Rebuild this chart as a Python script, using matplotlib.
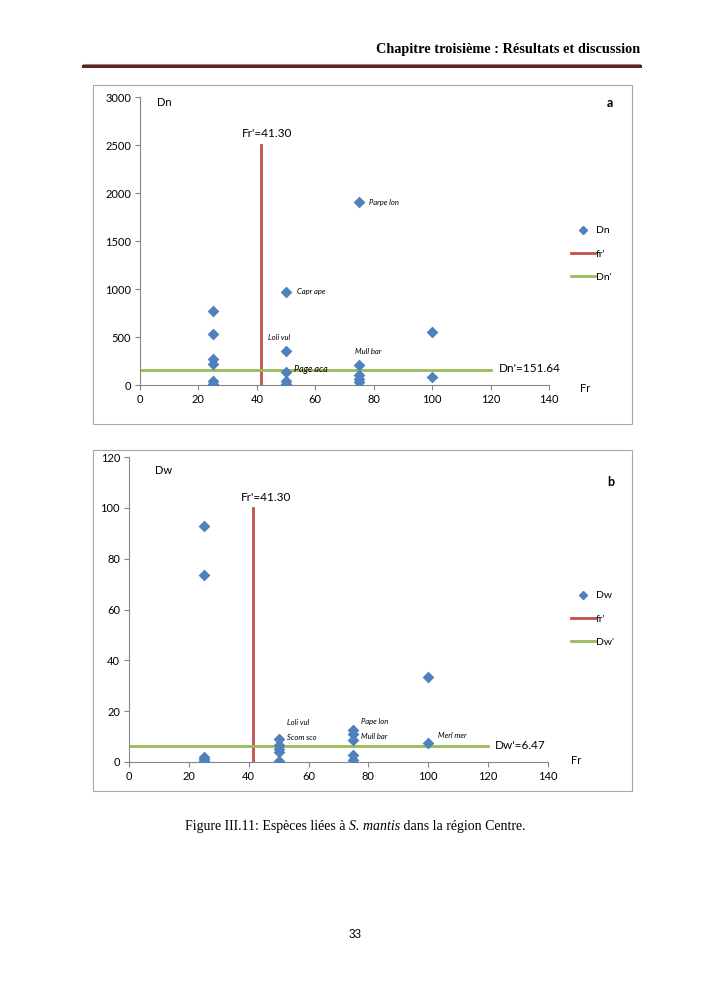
import numpy as np
import matplotlib
matplotlib.use("Agg")
import matplotlib.pyplot as plt
from matplotlib.patches import Rectangle
from matplotlib.lines import Line2D

# --- data ---
fr_a = [25, 25, 25, 25, 25, 25, 50, 50, 50, 50, 50, 75, 75, 75, 75, 75, 100, 100]
dn_a = [771, 531, 270, 215, 40, 10, 972, 354, 140, 40, 10, 1910, 208, 100, 60, 30, 552, 87]

fr_b = [25, 25, 25, 25, 25, 50, 50, 50, 50, 50, 75, 75, 75, 75, 75, 100, 100]
dw_b = [93, 73.5, 2, 1, 0.5, 9, 6.5, 5, 4, 0.5, 12.5, 11, 8.7, 2.8, 0.7, 33.3, 7.5]

fr_mean = 41.30
dn_mean = 151.64
dw_mean = 6.47

labels_a = ["Parpe lon", "Capr ape", "Loli vul", "Mull bar", "Page aca"]
labels_b = ["Loli vul", "Scom sco", "Pape lon", "Mull bar", "Merl mer"]

BLUE = "#4f81bd"
RED = "#c0504d"
GREEN = "#9bbb59"
GRAY = "#868686"

plt.rcParams['font.family'] = ['Lato', 'DejaVu Sans']

fig = plt.figure(figsize=(7.07, 10), dpi=100)


def px(x, y):
    return x / 707, 1 - y / 1000


def style_axes(ax, ymax, ystep):
    ax.set_xlim(0, 140)
    ax.set_ylim(0, ymax)
    ax.set_xticks(np.arange(0, 141, 20))
    ax.set_yticks(np.arange(0, ymax + 1, ystep))
    for s in ['top', 'right']:
        ax.spines[s].set_visible(False)
    for s in ['left', 'bottom']:
        ax.spines[s].set_color(GRAY)
        ax.spines[s].set_linewidth(0.8)
    ax.tick_params(direction='out', length=3.5, width=0.8, color=GRAY,
                   labelsize=8, labelcolor='black', pad=3)
    ax.patch.set_alpha(0)


def frame(x0, y0, x1, y1):
    fig.patches.append(Rectangle(px(x0, y1), (x1 - x0) / 707, (y1 - y0) / 1000,
                                 transform=fig.transFigure, fill=False,
                                 edgecolor='#a6a6a6', linewidth=0.8))


def legend(names, x, y):
    h = [Line2D([], [], color=BLUE, marker='D', ms=4.2, ls='none'),
         Line2D([], [], color=RED, lw=2),
         Line2D([], [], color=GREEN, lw=2)]
    fig.legend(h, names, loc='upper left', bbox_to_anchor=px(x, y),
               frameon=False, fontsize=7.5, numpoints=1, handlelength=2.3,
               handletextpad=0.1, labelspacing=1.35, borderpad=0, borderaxespad=0)


# header
fig.text(*px(640, 50), "Chapitre troisième : Résultats et discussion",
         family='Liberation Serif', weight='bold', fontsize=10.3,
         ha='right', va='center')
fig.add_artist(Line2D([83 / 707, 640 / 707], [1 - 63.5 / 1000] * 2,
                      transform=fig.transFigure, color='#b08080', lw=0.8))
fig.add_artist(Line2D([83 / 707, 640 / 707], [1 - 66 / 1000] * 2,
                      transform=fig.transFigure, color='#5a2626', lw=2.2))

# ---------- panel a ----------
frame(93, 85, 632, 424)
ax1 = fig.add_axes([140 / 707, 0.615, 409 / 707, 0.288])
style_axes(ax1, 3000, 500)
ax1.plot([fr_mean, fr_mean], [0, 2500], color=RED, lw=2, zorder=2)
ax1.plot([0, 120], [dn_mean, dn_mean], color=GREEN, lw=2, zorder=2)
ax1.scatter(fr_a, dn_a, marker='D', s=36, color=BLUE, zorder=3, linewidths=0)
ax1.text(78.5, 1900, labels_a[0], style='italic', fontsize=5.5, va='center')
ax1.text(53.7, 969, labels_a[1], style='italic', fontsize=5.5, va='center')
ax1.text(43.8, 490, labels_a[2], style='italic', fontsize=5.5, va='center')
ax1.text(73.6, 354, labels_a[3], style='italic', fontsize=5.5, va='center')
ax1.text(52.7, 158, labels_a[4], style='italic', fontsize=6.5, va='center')
ax1.text(34.9, 2615, "Fr'=41.30", fontsize=8.5, va='center')
ax1.text(122.9, 170, "Dn'=151.64", fontsize=8.5, va='center')
fig.text(*px(157, 103), "Dn", fontsize=8, va='center')
fig.text(*px(580, 389), "Fr", fontsize=8, va='center')
fig.text(*px(607, 103), "a", fontsize=9, weight='bold', va='center')
legend(["Dn", "fr'", "Dn'"], 571, 226)

# ---------- panel b ----------
frame(93, 450, 632, 791)
ax2 = fig.add_axes([129 / 707, 0.238, 419 / 707, 0.305])
style_axes(ax2, 120, 20)
ax2.plot([fr_mean, fr_mean], [0, 100], color=RED, lw=2, zorder=2)
ax2.plot([0, 120], [dw_mean, dw_mean], color=GREEN, lw=2, zorder=2)
ax2.scatter(fr_b, dw_b, marker='D', s=36, color=BLUE, zorder=3, linewidths=0)
ax2.text(52.8, 15.7, labels_b[0], style='italic', fontsize=5.5, va='center')
ax2.text(52.8, 9.8, labels_b[1], style='italic', fontsize=5.5, va='center')
ax2.text(77.5, 16.1, labels_b[2], style='italic', fontsize=5.5, va='center')
ax2.text(77.5, 10.2, labels_b[3], style='italic', fontsize=5.5, va='center')
ax2.text(103.2, 10.6, labels_b[4], style='italic', fontsize=5.5, va='center')
ax2.text(37.4, 103.9, "Fr'=41.30", fontsize=8.5, va='center')
ax2.text(122.3, 6.5, "Dw'=6.47", fontsize=8.5, va='center')
fig.text(*px(155, 470), "Dw", fontsize=8, va='center')
fig.text(*px(571, 760), "Fr", fontsize=8, va='center')
fig.text(*px(607, 482), "b", fontsize=9, weight='bold', va='center')
legend(["Dw", "fr'", "Dw'"], 571, 591)

# caption (three pieces so "S. mantis" can be italic) and page number
cap_parts = [("Figure III.11: Espèces liées à ", 'normal'),
             ("S. mantis", 'italic'),
             (" dans la région Centre.", 'normal')]
renderer = fig.canvas.get_renderer()
widths = []
for s, st in cap_parts:
    t = fig.text(0, 0, s, family='Liberation Serif', style=st, fontsize=10)
    widths.append(t.get_window_extent(renderer).width)
    t.remove()
x0 = 355 - sum(widths) / 2
for (s, st), w in zip(cap_parts, widths):
    fig.text(x0 / 707, 1 - 830 / 1000, s, family='Liberation Serif', style=st,
             fontsize=10, ha='left', va='baseline')
    x0 += w
fig.text(*px(355, 935), "33", family='Liberation Sans', fontsize=8.5,
         ha='center', va='center')

fig.savefig("out.png", dpi=100)
